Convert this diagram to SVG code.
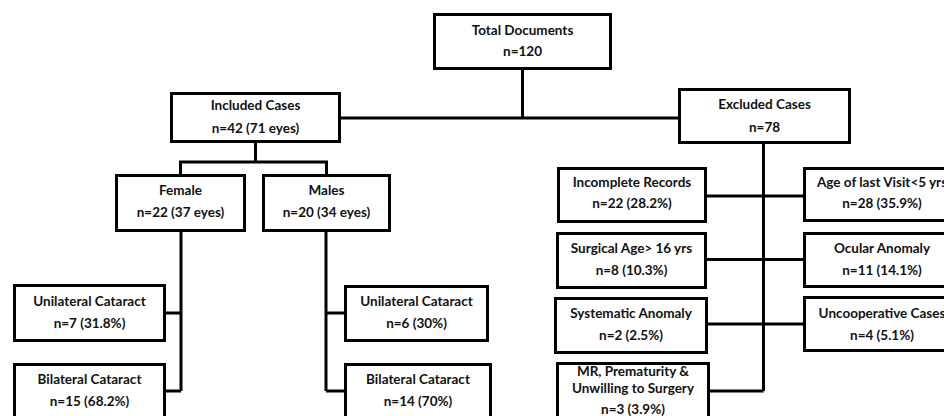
<svg xmlns="http://www.w3.org/2000/svg" width="944" height="416" viewBox="0 0 944 416">
<style>
rect.box{fill:#fff;stroke:#000;stroke-width:3}
.c{fill:none;stroke:#000;stroke-width:3}
text{font-family:Lato,"Liberation Sans",sans-serif;font-weight:bold;font-size:13.5px;fill:#111;text-anchor:middle}
</style>
<rect width="944" height="416" fill="#fff"/>
<g id="connectors">
<path class="c" d="M522.5 70V118M341 118H678"/>
<path class="c" d="M255.5 143V162M180.5 174V162H326.5V174"/>
<path class="c" d="M181 232V391M166 313H181M165 391H181"/>
<path class="c" d="M326 232V391M326 313H344M326 391H344"/>
<path class="c" d="M763.5 144V391M707 196H803M707 259.5H803M708 324H803M710 391H763.5"/>
</g>
<g id="total"><rect class="box" x="434.5" y="14.5" width="176" height="54"/><text x="522.5" y="35">Total Documents</text><text x="522.5" y="56">n=120</text></g>
<g id="included"><rect class="box" x="171.5" y="93.5" width="168" height="48"/><text x="255.5" y="110">Included Cases</text><text x="255.5" y="133">n=42 (71 eyes)</text></g>
<g id="excluded"><rect class="box" x="679.5" y="89.5" width="170" height="53"/><text x="764.5" y="109">Excluded Cases</text><text x="764.5" y="132">n=78</text></g>
<g id="female"><rect class="box" x="116.5" y="175.5" width="128" height="55"/><text x="180.5" y="195">Female</text><text x="180.5" y="217">n=22 (37 eyes)</text></g>
<g id="males"><rect class="box" x="263.5" y="175.5" width="126" height="55"/><text x="326.5" y="195">Males</text><text x="326.5" y="217">n=20 (34 eyes)</text></g>
<g id="uni-f"><rect class="box" x="14.5" y="285.5" width="150" height="55"/><text x="89.5" y="306">Unilateral Cataract</text><text x="89.5" y="328">n=7 (31.8%)</text></g>
<g id="bi-f"><rect class="box" x="14.5" y="364.5" width="150" height="60"/><text x="89.5" y="384">Bilateral Cataract</text><text x="89.5" y="406">n=15 (68.2%)</text></g>
<g id="uni-m"><rect class="box" x="345.5" y="286.5" width="142" height="54"/><text x="416.5" y="306">Unilateral Cataract</text><text x="416.5" y="328">n=6 (30%)</text></g>
<g id="bi-m"><rect class="box" x="345.5" y="364.5" width="145" height="60"/><text x="418" y="384">Bilateral Cataract</text><text x="418" y="406">n=14 (70%)</text></g>
<g id="incomplete"><rect class="box" x="558.5" y="168.5" width="147" height="53"/><text x="632" y="187">Incomplete Records</text><text x="632" y="208">n=22 (28.2%)</text></g>
<g id="surgical"><rect class="box" x="557.5" y="233.5" width="148" height="54"/><text x="631.5" y="253">Surgical Age&gt; 16 yrs</text><text x="631.5" y="275">n=8 (10.3%)</text></g>
<g id="systematic"><rect class="box" x="555.5" y="298.5" width="151" height="54"/><text x="631" y="318">Systematic Anomaly</text><text x="631" y="340">n=2 (2.5%)</text></g>
<g id="mr"><rect class="box" x="557.5" y="363.5" width="151" height="60"/><text x="633" y="376">MR, Prematurity &amp;</text><text x="633" y="393">Unwilling to Surgery</text><text x="633" y="414">n=3 (3.9%)</text></g>
<g id="age"><rect class="box" x="804.5" y="168.5" width="156" height="52"/><text x="882" y="187">Age of last Visit&lt;5 yrs</text><text x="882" y="208">n=28 (35.9%)</text></g>
<g id="ocular"><rect class="box" x="804.5" y="233.5" width="156" height="53"/><text x="882" y="253">Ocular Anomaly</text><text x="882" y="275">n=11 (14.1%)</text></g>
<g id="uncooperative"><rect class="box" x="804.5" y="297.5" width="156" height="53"/><text x="882" y="318">Uncooperative Cases</text><text x="882" y="340">n=4 (5.1%)</text></g>
</svg>
